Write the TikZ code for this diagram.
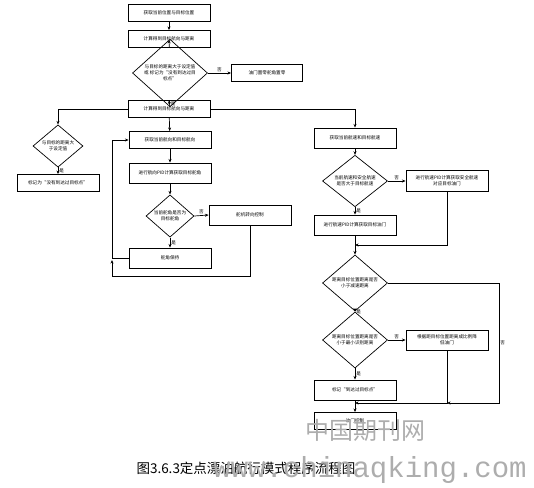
\documentclass[tikz,border=0pt]{standalone}
\usepackage{fontspec}
\setmainfont{Liberation Serif}
\newfontfamily\cjk{Noto Sans CJK SC}
\newfontfamily\wmfont{Liberation Mono}
\usetikzlibrary{arrows.meta,shapes.geometric}

\begin{document}
\begin{tikzpicture}[x=1pt,y=-1pt,font=\cjk\fontsize{4.6}{5.8}\selectfont,>={Stealth[length=3.6pt,width=3pt]},
        line width=.7pt,
        q/.style={draw,line width=.9pt,align=center,minimum width=82pt,minimum height=17pt,inner sep=1pt},
        d/.style={draw,diamond,line width=.7pt,align=center,inner sep=0pt,minimum width=65pt,minimum height=42pt},
        yn/.style={inner sep=1pt,font=\cjk\fontsize{4.6}{5.8}\selectfont}]
        \useasboundingbox (0,0) rectangle (534,487);
        % top column
        \node[q] (pos) at (169,13) {获取当前位置与目标位置};
        \node[q] (calc) at (169,39) {计算得到目标航向与距离};
        \node[d,minimum width=75pt,minimum height=39pt] (far) at (170,73) {与目标的距离大于设定值\\或 标记为“没有到达过目\\标点”};
        \node[q,minimum width=71pt] (stop) at (267,73) {油门置零舵角置零};
        \node[q] (calc2) at (169,109) {计算得到目标航向与距离};
        % left branch
        \node[d,minimum width=50pt,minimum height=32pt] (near) at (58,146) {与目标的距离大\\于设定值};
        \node[q] (notyet) at (58,183) {标记为“没有到达过目标点”};
        % heading loop
        \node[q] (head) at (170,140) {获取当前航向和目标航向};
        \node[q,minimum height=20pt] (hpid) at (170,173) {进行航向PID计算获取目标舵角};
        \node[d,minimum width=48pt,minimum height=32pt] (rud) at (170,216) {当前舵角是否为\\目标舵角};
        \node[q,minimum height=20pt] (servo) at (250,215) {舵机转向控制};
        \node[q,minimum height=20pt] (hold) at (170,258) {舵角保持};
        \coordinate (lpA) at (112,276);
        % speed column
        \node[q,minimum height=20pt] (spd) at (355,138) {获取当前航速和目标航速};
        \node[d,minimum height=43pt] (spdq) at (355,181) {当前航速和安全航速\\是否大于目标航速};
        \node[q,minimum height=21pt] (safe) at (447,181) {进行航速PID计算获取安全航速\\对应目标油门};
        \node[q,minimum height=20pt] (spid) at (355,225) {进行航速PID计算获取目标油门};
        \coordinate (mR) at (355,245);
        \node[d] (slow) at (355,283) {距离目标位置距离是否\\小于减速距离};
        \node[d] (arr) at (355,340) {距离目标位置距离是否\\小于最小识别距离};
        \node[q,minimum height=20pt] (prop) at (447,340) {根据距目标位置距离成比例降\\低油门};
        \node[q,minimum height=20pt] (done) at (355,390) {标记“到达过目标点”};
        \node[q,minimum height=17pt] (thr) at (355,421) {油门控制};
        \coordinate (cR) at (499,403);
        \coordinate (jR) at (447,403);
        \coordinate (jL) at (355,403);

        \draw[->] (pos) -- (calc);
        \draw[->] (calc) -- (far);
        \draw[->] (far.east) -- node[yn,above]{否} (stop.west);
        \draw[->] (far.south) -- node[yn,right]{是} (calc2.north);
        \draw[->] (calc2.west) -| (near.north);
        \draw[->] (calc2.east) -| (spd.north);
        \draw[->] (calc2) -- (head);
        \draw[->] (near.south) -- node[yn,right]{是} (notyet.north);
        \draw[->] (head) -- (hpid);
        \draw[->] (hpid) -- (rud);
        \draw[->] (rud.east) -- node[yn,above]{否} (servo.west);
        \draw[->] (rud.south) -- node[yn,right]{是} (hold.north);
        \draw[->] (servo.south) |- (lpA) -- ++(0,-16);
        \draw[->] (hold.west) -- (hold.west -| lpA) |- (head.west);
        \draw[->] (spd) -- (spdq);
        \draw[->] (spdq.east) -- node[yn,above]{否} (safe.west);
        \draw[->] (spdq.south) -- node[yn,right]{是} (spid.north);
        \draw[->] (safe.south) |- (mR);
        \draw[->] (spid) -- (slow);
        \draw[->] (slow.south) -- node[yn,right]{是} (arr.north);
        \draw[->] (slow.east) -| node[yn,right,pos=.75]{否} (cR) -- (jR);
        \draw[->] (arr.east) -- node[yn,above]{否} (prop.west);
        \draw[->] (arr.south) -- node[yn,right]{是} (done.north);
        \draw[->] (prop.south) |- (jL);
        \draw[->] (done) -- (thr);

        % caption and watermark
        \node[font=\cjk\fontsize{13.5}{15}\selectfont] (cap) at (246,468) {图3.6.3定点漂泊航行模式程序流程图};
        \node[text=black!32,font=\cjk\fontsize{24}{26}\selectfont] (wmcn) at (365,430) {中国期刊网};
        \node[text=black!32,font=\wmfont\fontsize{29}{30}\selectfont] (wmurl) at (370,470) {www.chinaqking.com};
      \end{tikzpicture}
\end{document}
